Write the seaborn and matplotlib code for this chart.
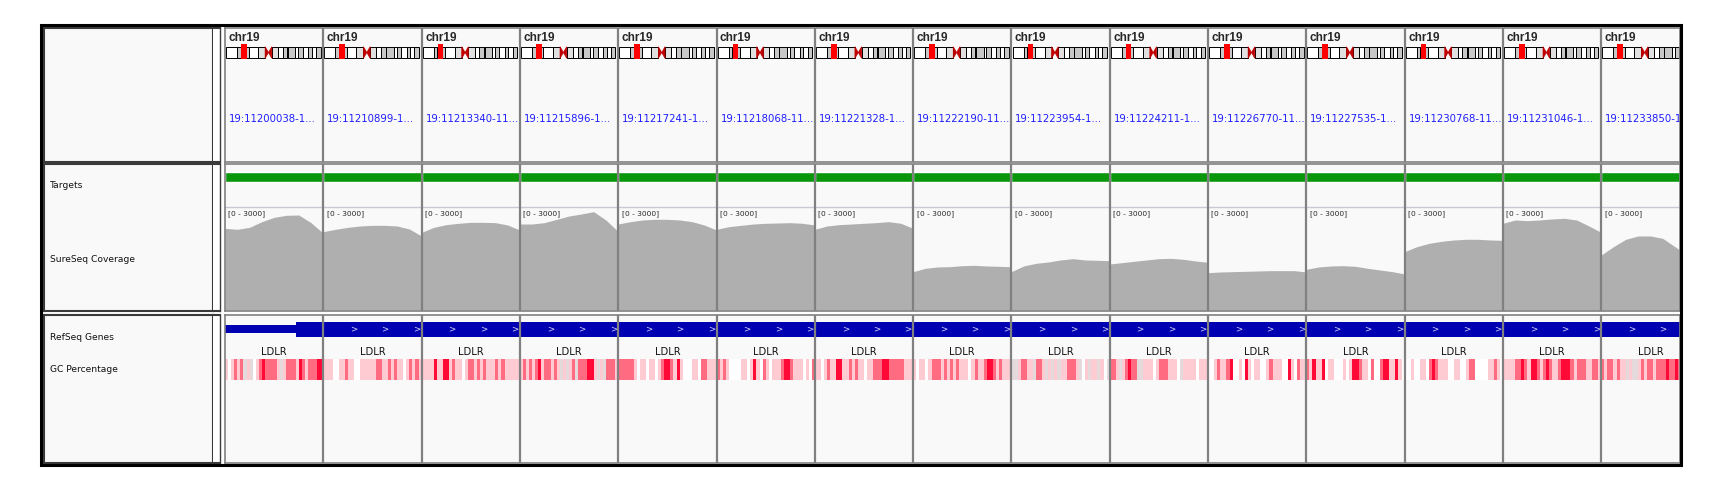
import numpy as np
import pandas as pd
import matplotlib
matplotlib.use('Agg')
import matplotlib.pyplot as plt
import seaborn as sns
from matplotlib.patches import Rectangle, Polygon
from matplotlib.colors import ListedColormap

# DATA
loci = ['19:11200038-1...', '19:11210899-1...', '19:11213340-11...', '19:11215896-1...',
        '19:11217241-1...', '19:11218068-11...', '19:11221328-1...', '19:11222190-11...',
        '19:11223954-1...', '19:11224211-1...', '19:11226770-11...', '19:11227535-1...',
        '19:11230768-11...', '19:11231046-1...', '19:11233850-1...']
chrom = 'chr19'
gene = 'LDLR'
cov_range = 3000

# coverage, 9 evenly spaced samples across each panel
cov1 = [2379, 2350, 2408, 2573, 2699, 2758, 2767, 2544, 2233]
cov2 = [2282, 2350, 2408, 2447, 2466, 2466, 2447, 2360, 2155]
cov3 = [2262, 2408, 2486, 2524, 2554, 2554, 2544, 2476, 2330]
cov4 = [2505, 2505, 2544, 2641, 2738, 2796, 2864, 2621, 2282]
cov5 = [2505, 2573, 2622, 2641, 2641, 2622, 2573, 2476, 2330]
cov6 = [2350, 2427, 2466, 2505, 2525, 2534, 2544, 2525, 2476]
cov7 = [2350, 2447, 2486, 2505, 2525, 2544, 2573, 2525, 2379]
cov8 = [1117, 1214, 1253, 1262, 1291, 1301, 1282, 1272, 1262]
cov9 = [1117, 1282, 1359, 1398, 1457, 1495, 1457, 1447, 1437]
cov10 = [1340, 1379, 1418, 1457, 1495, 1505, 1476, 1427, 1389]
cov11 = [1088, 1107, 1117, 1126, 1136, 1146, 1146, 1146, 1107]
cov12 = [1185, 1253, 1282, 1291, 1272, 1214, 1165, 1117, 1049]
cov13 = [1699, 1845, 1942, 2000, 2039, 2059, 2059, 2039, 2029]
cov14 = [2525, 2622, 2602, 2622, 2651, 2670, 2622, 2447, 2262]
cov15 = [1602, 1845, 2059, 2156, 2156, 2088, 1845, 1602, 1457]
coverage = [cov1, cov2, cov3, cov4, cov5, cov6, cov7, cov8, cov9, cov10,
            cov11, cov12, cov13, cov14, cov15]

# GC percentage track, binned into 5 shades (0 white .. 3 red, 4 grey)
gc_bins = ['10121241401232222141222132122233', '11100112110011111221121211012121',
           '11113113312110122121211121211111', '12121231221214141242223314142221',
           '22222101101101233213100011022111', '21210000110131021011123321110102',
           '11012113311212110112223322222111', '10110122212121211101211233212111',
           '44122114221414141122214014114104', '22141232244111012221110411110111',
           '00121123001031011001211100310211', '21311301100010133211020023311310',
           '00100110232111001100122000011210', '11112232133212321123332122211221',
           '21221211414412122122232232212212']
gc_colors = ['#FFFFFF', '#FFCBD3', '#FF6B80', '#FF0A37', '#E4DADC']

# coding start of LDLR inside each panel (fraction), first panel starts with UTR
cds_start = [0.72] + [0.0] * 14
chevron_pos = [0.31, 0.63, 0.95]

# chr19 cytobands (Mb)
band_start = [0, 6.9, 9.2, 11.2, 14.0, 20.0, 24.4, 26.5, 28.6, 32.4, 35.5, 38.3, 38.7, 43.4, 45.2, 48.0, 51.4, 53.6, 56.3]
band_end = [6.9, 9.2, 11.2, 14.0, 20.0, 24.4, 26.5, 28.6, 32.4, 35.5, 38.3, 38.7, 43.4, 45.2, 48.0, 51.4, 53.6, 56.3, 59.1]
band_stain = ['gneg', 'gpos25', 'gneg', 'gpos25', 'gneg', 'gvar', 'acen', 'acen', 'gvar', 'gneg', 'gpos25',
              'gneg', 'gpos25', 'gneg', 'gpos25', 'gneg', 'gpos25', 'gneg', 'gpos25']
chr_len = 59.1
roi_mb = (9.4, 12.9)

sns.set_style('white')
plt.rcParams['font.family'] = ['DejaVu Sans']

W, H = 1723, 504
fig = plt.figure(figsize=(W / 100, H / 100), dpi=100)
fig.patch.set_facecolor('white')

BG = '#F9F9F9'
SEP = '#808080'
PW = 98.3
X0, X1 = 225, 1680
NV = (X1 - X0) / PW
npan = len(loci)


def pax(x0, y0, x1, y1, face=BG, edge=None, lw=1.5):
    ax = fig.add_axes([x0 / W, 1 - y1 / H, (x1 - x0) / W, (y1 - y0) / H])
    ax.set_facecolor(face)
    ax.set_xticks([])
    ax.set_yticks([])
    for s in ax.spines.values():
        if edge is None:
            s.set_visible(False)
        else:
            s.set_color(edge)
            s.set_linewidth(lw)
    return ax


# name panel
groups = [(28, 162), (164, 311), (315, 463)]
for y0, y1 in groups:
    pax(44, y0, 213, y1, edge='#3a3a3a', lw=1.5)
    at = pax(213, y0, 219.5, y1, face='white', edge='#3a3a3a', lw=1.0)
    at.spines['left'].set_visible(False)
    at.spines['top'].set_linewidth(1.5)
    at.spines['bottom'].set_linewidth(1.5)

names = [('Targets', 186), ('SureSeq Coverage', 260), ('RefSeq Genes', 338), ('GC Percentage', 370)]
for label, yy in names:
    fig.text(50 / W, 1 - yy / H, label, fontsize=6.6, va='center', ha='left', color='#111111')

# data group backgrounds
for y0, y1 in groups:
    pax(X0, y0, X1, y1)

# header
hd = pax(X0, 28, X1, 161, face='none')
hd.set_xlim(0, NV)
hd.set_ylim(133, 0)
s = 0.96 / chr_len
for i in range(npan):
    hd.text(i + 0.035, 10, chrom, fontsize=8.5, fontweight='bold', family='Liberation Sans',
            va='center', ha='left', clip_on=True)
    hd.text(i + 0.04, 91, loci[i], fontsize=7.3, color='#1E1EFF', va='center', ha='left', clip_on=True)
    x0 = i + 0.012
    for b0, b1, st in zip(band_start, band_end, band_stain):
        if st == 'acen':
            continue
        fc = {'gneg': 'white', 'gpos25': '#C8C8C8', 'gvar': '#E0E0E0'}[st]
        hd.add_patch(Rectangle((x0 + b0 * s, 18.7), (b1 - b0) * s, 11.6, facecolor=fc,
                               edgecolor='black', lw=0.7))
    cen = band_end[6]
    hd.add_patch(Polygon([(x0 + band_start[6] * s, 18.7), (x0 + cen * s, 24.5),
                          (x0 + band_start[6] * s, 30.3)], closed=True, facecolor='#C00000',
                         edgecolor='#C00000', lw=0.5))
    hd.add_patch(Polygon([(x0 + band_end[7] * s, 18.7), (x0 + cen * s, 24.5),
                          (x0 + band_end[7] * s, 30.3)], closed=True, facecolor='#C00000',
                         edgecolor='#C00000', lw=0.5))
    hd.add_patch(Rectangle((x0 + roi_mb[0] * s, 15.7), (roi_mb[1] - roi_mb[0]) * s, 15.6,
                           facecolor='#FF0000', edgecolor='none'))

# targets
tg = pax(X0, 164, X1, 207, face='none')
tg.set_xlim(0, NV)
tg.set_ylim(43, 0)
tg.broken_barh([(i, 1) for i in range(npan)], (8, 10), facecolor='#0A960A')

# coverage
cv = pax(X0, 207, X1, 310, face='none')
cv.set_xlim(0, NV)
cv.set_ylim(0, cov_range)
cv.spines['top'].set_visible(True)
cv.spines['top'].set_color('#C8C8D6')
cv.spines['top'].set_linewidth(1)
for i, vals in enumerate(coverage):
    xs = i + np.linspace(0, 1, len(vals))
    cv.fill_between(xs, 0, vals, color='#AFAFAF', lw=0)
    cv.text(i + 0.035, cov_range * 0.94, '[0 - 3000]', fontsize=5.4, va='center', ha='left',
            family='Liberation Sans Narrow', clip_on=True)

# genes
gn = pax(X0, 316, X1, 358, face='none')
gn.set_xlim(0, NV)
gn.set_ylim(42, 0)
for i in range(npan):
    c0 = cds_start[i]
    if c0 > 0:
        gn.add_patch(Rectangle((i, 9), c0, 8, facecolor='#0000B2', edgecolor='none'))
    gn.add_patch(Rectangle((i + c0, 6), 1 - c0, 15, facecolor='#0000B2', edgecolor='none'))
    if c0 == 0:
        for p in chevron_pos:
            gn.text(i + p, 13.2, '>', fontsize=6.3, color='#DADAF8', ha='center', va='center', clip_on=True)
    gn.text(i + 0.5, 36, gene, fontsize=7.2, ha='center', va='center', color='#111111', clip_on=True)

# GC heatmap
gc = pax(X0, 359, X1, 380, face='none')
gc_row = np.array([[int(c) for c in ''.join(gc_bins)]])
sns.heatmap(gc_row, ax=gc, cmap=ListedColormap(gc_colors), vmin=-0.5, vmax=4.5, cbar=False,
            xticklabels=False, yticklabels=False)
gc.set_xlim(0, NV * len(gc_bins[0]))

# group frames and panel separators on top
for y0, y1 in groups:
    fr = pax(X0, y0, X1, y1, face='none', edge=SEP, lw=1.2)
    fr.set_xlim(0, NV)
    for i in range(1, npan):
        fr.axvline(i, color=SEP, lw=1.6)

# outer frame
fig.add_artist(Rectangle((41 / W, 1 - 465 / H), (1681 - 41) / W, (465 - 25) / H, fill=False,
                         edgecolor='black', lw=2.2, transform=fig.transFigure))

fig.savefig('out.png', dpi=100)
